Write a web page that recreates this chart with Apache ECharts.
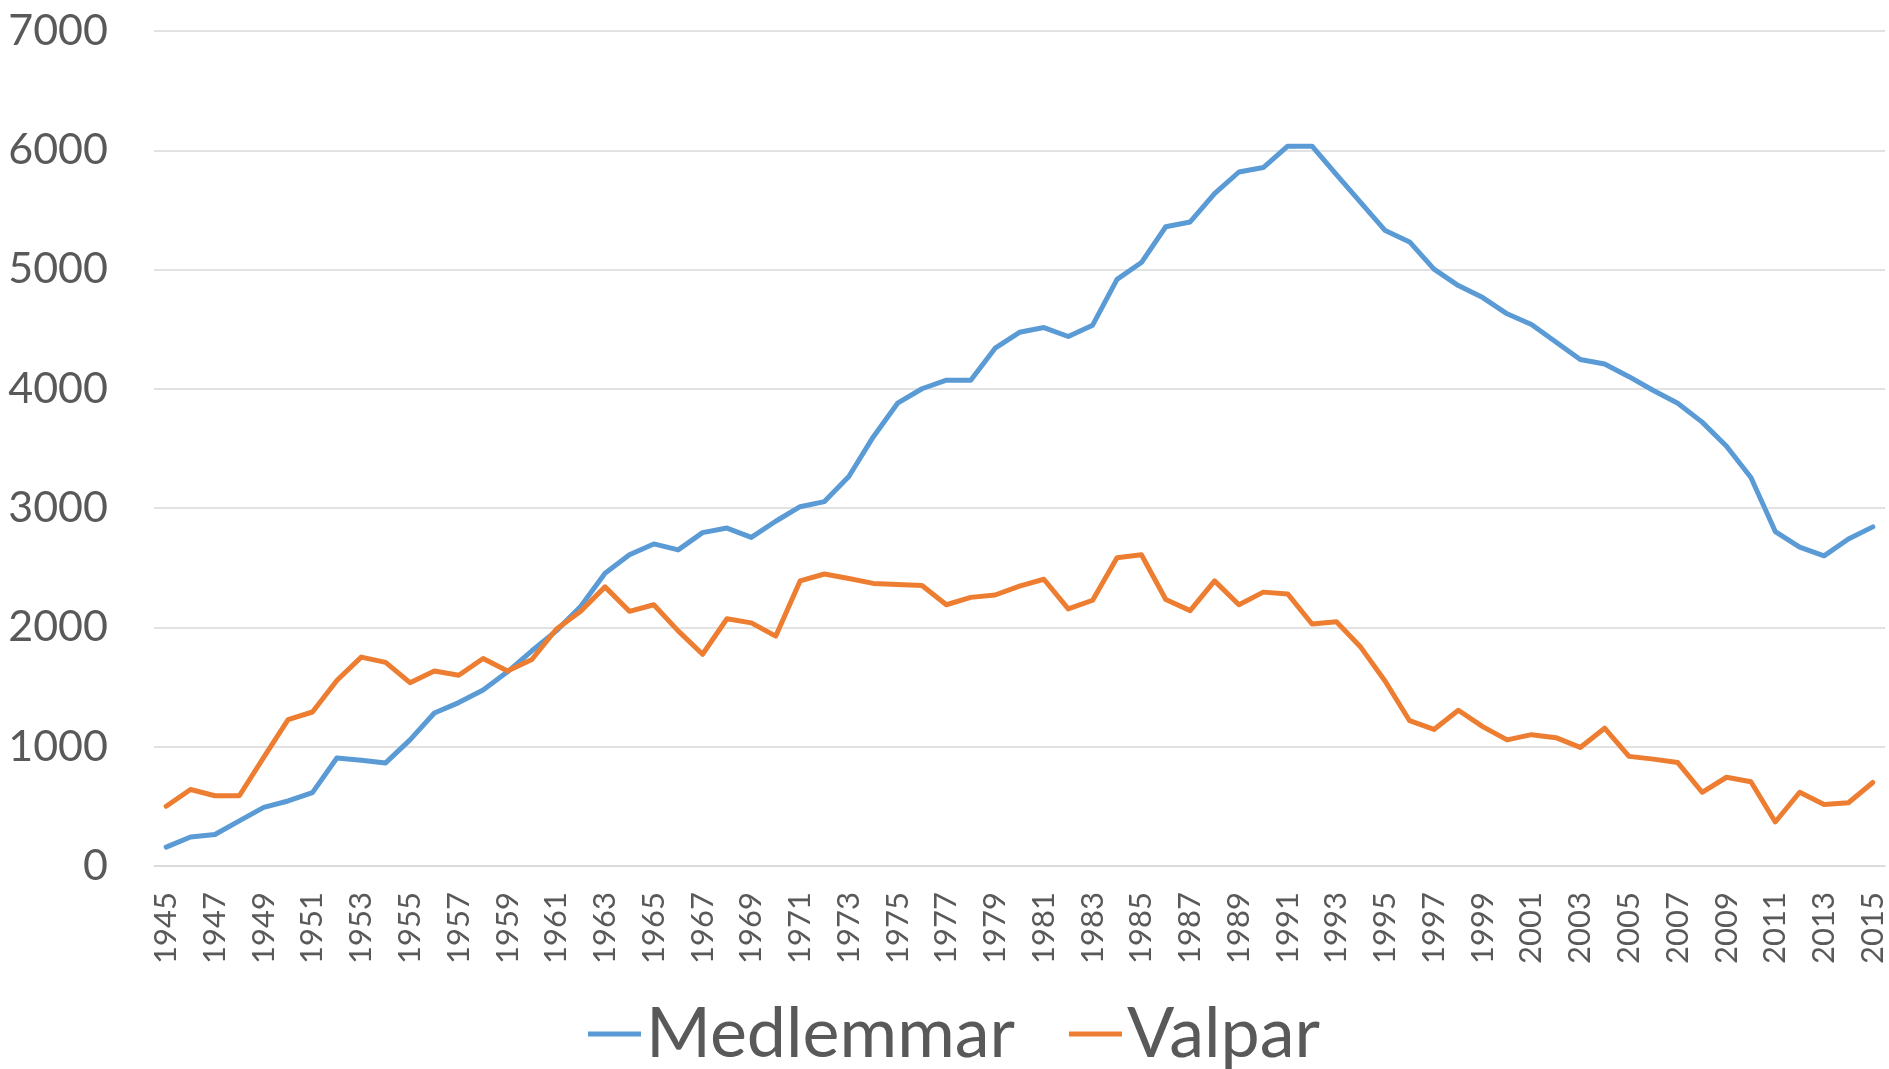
<!DOCTYPE html>
<html>
<head>
<meta charset="utf-8">
<script src="https://cdn.jsdelivr.net/npm/echarts@6/dist/echarts.min.js"></script>
<style>
html,body{margin:0;padding:0;background:#fff;}
#chart{width:1889px;height:1069px;}
</style>
</head>
<body>
<div id="chart"></div>
<script>
const years = [];
for (let y = 1945; y <= 2015; y++) years.push(String(y));

const medlemmar = [
  158, 243, 264, 378, 492, 545, 615, 905, 887, 864,
  1057, 1283, 1370, 1476, 1628, 1804, 1971, 2176, 2454, 2609,
  2700, 2650, 2795, 2833, 2755, 2890, 3012, 3055, 3265, 3597,
  3880, 4001, 4073, 4073, 4341, 4474, 4514, 4439, 4534, 4918,
  5059, 5359, 5399, 5636, 5818, 5855, 6034, 6034, 5795, 5561,
  5327, 5232, 5004, 4866, 4765, 4629, 4540, 4393, 4246, 4208,
  4102, 3986, 3880, 3721, 3519, 3257, 2804, 2673, 2600, 2741,
  2843
];

const valpar = [
  501, 641, 589, 589, 910, 1227, 1291, 1555, 1751, 1707,
  1537, 1634, 1599, 1739, 1634, 1731, 1985, 2135, 2340, 2135,
  2190, 1971, 1775, 2073, 2038, 1927, 2390, 2448, 2410, 2369,
  2360, 2351, 2190, 2252, 2272, 2346, 2404, 2155, 2228, 2585,
  2609, 2234, 2141, 2390, 2190, 2296, 2281, 2029, 2047, 1833,
  1549, 1218, 1145, 1306, 1168, 1057, 1101, 1076, 994, 1155,
  919, 896, 867, 618, 744, 706, 369, 618, 515, 530,
  700
];

const seriesNames = ['Medlemmar', 'Valpar'];

const chart = echarts.init(document.getElementById('chart'));
chart.setOption({
  animation: false,
  backgroundColor: '#ffffff',
  color: ['#5B9BD5', '#ED7D31'],
  textStyle: { fontFamily: 'Lato' },
  grid: { left: 154, right: 4, top: 31, bottom: 203, containLabel: false },
  legend: {
    data: seriesNames,
    left: 583,
    top: 994,
    icon: 'rect',
    itemWidth: 53,
    itemHeight: 5,
    itemGap: 54,
    textStyle: { fontSize: 70, color: '#595959', fontFamily: 'Lato' }
  },
  xAxis: {
    type: 'category',
    data: years,
    boundaryGap: true,
    axisLine: { show: true, lineStyle: { color: '#D9D9D9', width: 1.5 } },
    axisTick: { show: false },
    axisLabel: {
      interval: 1,
      rotate: 90,
      margin: 26,
      fontSize: 31,
      color: '#595959',
      fontFamily: 'Lato'
    },
    splitLine: { show: false }
  },
  yAxis: {
    type: 'value',
    min: 0,
    max: 7000,
    interval: 1000,
    axisLine: { show: false },
    axisTick: { show: false },
    axisLabel: {
      margin: 46, fontSize: 43, color: '#595959', fontFamily: 'Lato',
      formatter: function (v) { return String(v); }
    },
    splitLine: { lineStyle: { color: '#D9D9D9', width: 1.5 } }
  },
  series: [
    {
      name: seriesNames[0],
      type: 'line',
      data: medlemmar,
      symbol: 'none',
      lineStyle: { width: 5, color: '#5B9BD5', join: 'round', cap: 'round' }
    },
    {
      name: seriesNames[1],
      type: 'line',
      data: valpar,
      symbol: 'none',
      lineStyle: { width: 5, color: '#ED7D31', join: 'round', cap: 'round' }
    }
  ]
});
</script>
</body>
</html>
